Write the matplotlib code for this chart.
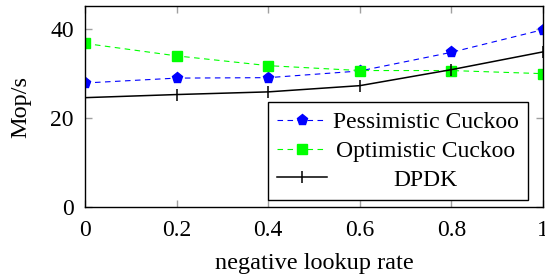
import matplotlib
matplotlib.use("Agg")
import matplotlib.pyplot as plt

x = [0, 0.2, 0.4, 0.6, 0.8, 1.0]
pessimistic = [27.9, 29.0, 29.1, 30.6, 34.8, 39.9]
optimistic = [36.8, 34.0, 31.8, 30.7, 30.7, 30.0]
dpdk = [24.6, 25.3, 25.9, 27.3, 30.9, 34.9]
xticks = [0, 0.2, 0.4, 0.6, 0.8, 1]
xticklabels = ["0", "0.2", "0.4", "0.6", "0.8", "1"]
yticks = [0, 20, 40]

plt.rcParams['font.family'] = ['Liberation Serif', 'DejaVu Serif']
fs = 17

fig = plt.figure(figsize=(5.45, 2.77), dpi=100)
ax = fig.add_axes([0.156, 0.2527, 0.8403, 0.7253])

ax.plot(x, pessimistic, color='blue', linestyle=(0, (5, 4)), linewidth=0.8,
        marker='p', markersize=8, label='Pessimistic Cuckoo')
ax.plot(x, optimistic, color='#00ff00', linestyle=(0, (5, 4)), linewidth=0.8,
        marker='s', markersize=7, label='Optimistic Cuckoo')
ax.plot(x, dpdk, color='black', linestyle='-', linewidth=1.1,
        marker='|', markersize=8, markeredgewidth=1.1, label='DPDK')

ax.set_xlim(0, 1)
ax.set_ylim(0, 45.2)
ax.set_xticks(xticks)
ax.set_xticklabels(xticklabels)
ax.set_yticks(yticks)
ax.tick_params(axis='both', which='both', direction='in', top=True, right=True,
               color='#a0a0a0', length=5, width=1, labelsize=fs)
ax.tick_params(axis='x', pad=9)
ax.tick_params(axis='y', pad=8)
for s in ax.spines.values():
    s.set_linewidth(1)
ax.set_xlabel('negative lookup rate', fontsize=fs + 0.5, labelpad=9)
ax.set_ylabel('Mop/s', fontsize=fs + 0.5, labelpad=14)

leg = ax.legend(loc='lower right', fontsize=fs, frameon=True, fancybox=False,
                edgecolor='black', framealpha=1, handlelength=2.1, numpoints=1,
                borderpad=0.4, labelspacing=0.3, handletextpad=0.25,
                borderaxespad=0, bbox_to_anchor=(0.967, 0.035))
leg.get_frame().set_linewidth(1)

# center the legend labels like the reference
renderer = fig.canvas.get_renderer()
texts = leg.get_texts()
widths = [t.get_window_extent(renderer).width for t in texts]
maxw = max(widths)
for t, w in zip(texts, widths):
    t.set_x((maxw - w) / 2)

fig.savefig('out.png', dpi=100)
